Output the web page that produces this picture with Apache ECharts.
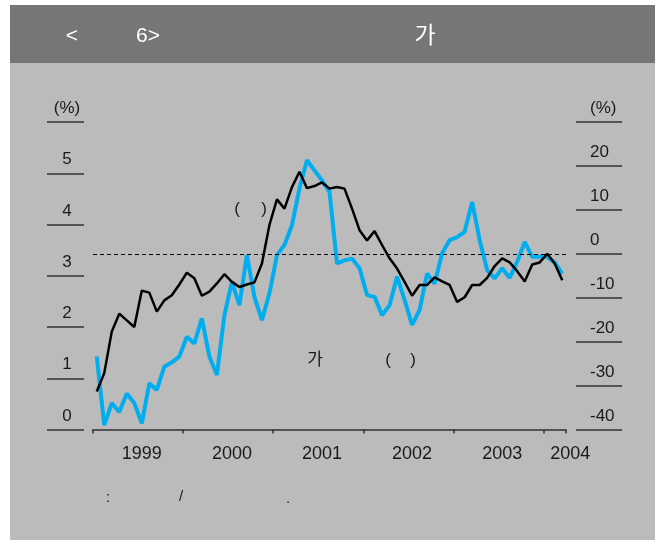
<!DOCTYPE html>
<html><head><meta charset="utf-8">
<script src="https://cdn.jsdelivr.net/npm/echarts@6/dist/echarts.min.js"></script>
<style>html,body{margin:0;padding:0;background:#fff}#c{width:659px;height:545px}</style>
</head><body><div id="c"></div>
<script>
var years = ['1999','2000','2001','2002','2003','2004'];
var months = [];
for (var y = 1999; y <= 2004; y++) { for (var m = 1; m <= 12; m++) { if (months.length < 63) months.push(y + '-' + (m < 10 ? '0' + m : m)); } }
var leftTicks = ['0','1','2','3','4','5','(%)'];
var rightTicks = ['-40','-30','-20','-10','0','10','20','(%)'];
var blackSeries = [0.74,1.10,1.91,2.26,2.13,2.00,2.71,2.67,2.30,2.52,2.62,2.83,3.06,2.95,2.61,2.69,2.85,3.03,2.88,2.78,2.83,2.87,3.24,3.99,4.49,4.31,4.73,5.03,4.71,4.75,4.82,4.70,4.73,4.70,4.31,3.89,3.69,3.87,3.60,3.34,3.14,2.88,2.61,2.82,2.82,2.97,2.89,2.82,2.49,2.58,2.82,2.82,2.96,3.19,3.34,3.26,3.09,2.89,3.22,3.26,3.43,3.24,2.91];
var blueSeries = [-23.4,-39.0,-34.0,-36.0,-31.8,-34.0,-38.6,-29.5,-31.0,-25.7,-24.7,-23.4,-18.9,-20.4,-14.7,-23.4,-27.6,-14.0,-6.4,-11.7,-0.3,-9.8,-15.1,-9.0,-0.3,2.0,6.5,14.9,21.3,19.0,16.7,14.1,-2.2,-1.5,-1.1,-3.3,-9.4,-9.8,-14.0,-11.7,-5.2,-10.5,-16.2,-12.8,-4.5,-6.8,0.1,3.1,3.8,5.0,11.8,3.1,-3.7,-5.6,-3.3,-5.5,-1.8,2.7,-0.7,-0.7,-0.7,-2.0,-4.5];
var titleParts = ['<', '6>', '가'];
var notes = ['(', ')', '가', '(', ')'];
var footer = [':', '/', '.'];

var chart = echarts.init(document.getElementById('c'));
var font = '"Liberation Sans", Arial, sans-serif';
var kfont = '"Noto Sans CJK KR", "Liberation Sans", sans-serif';
function txt(x, y, s, size, color, f) {
  return {type:'text', x:x, y:y, style:{text:s, fill:color, font: size + 'px ' + (f || kfont), textAlign:'center', textVerticalAlign:'middle'}};
}
var labelIdx = {6:0, 18:1, 30:2, 42:3, 54:4, 62:5};
chart.setOption({
  backgroundColor: '#ffffff',
  animation: false,
  graphic: [
    {type:'rect', shape:{x:10, y:5, width:645, height:58}, style:{fill:'#767676'}, z:-10},
    {type:'rect', shape:{x:10, y:63, width:645, height:477}, style:{fill:'#bbbbbb'}, z:-10},
    txt(72, 36, titleParts[0], 21, '#ffffff', font),
    txt(148, 36, titleParts[1], 21, '#ffffff', font),
    txt(425, 34, titleParts[2], 23, '#ffffff'),
    txt(237, 209, notes[0], 17, '#1a1a1a', font),
    txt(264, 209, notes[1], 17, '#1a1a1a', font),
    txt(315, 359, notes[2], 17, '#1a1a1a'),
    txt(388, 360, notes[3], 17, '#1a1a1a', font),
    txt(413, 360, notes[4], 17, '#1a1a1a', font),
    txt(108, 498, footer[0], 15, '#1a1a1a', font),
    txt(181, 497, footer[1], 15, '#1a1a1a', font),
    txt(288, 499, footer[2], 15, '#1a1a1a', font)
  ],
  grid: {left:93, right:93, top:122, bottom:115.5},
  xAxis: {
    type:'category', data: months, boundaryGap: true,
    axisLine: {show:true, lineStyle:{color:'#333333', width:1.5}},
    axisTick: {show:true, length:4, interval: function(i){ return i % 12 === 0; }, lineStyle:{color:'#333333', width:1.5}},
    axisLabel: {
      interval: function(i){ return labelIdx[i] !== undefined; },
      formatter: function(v, i){ var k = labelIdx[i]; if (k === undefined) return ''; return k === 5 ? '{s|' + years[k] + '}' : years[k]; },
      margin: 16, fontSize: 18, fontFamily: font, color: '#1a1a1a',
      rich: {s:{padding:[0,0,0,16], fontSize:18, fontFamily: font, color:'#1a1a1a'}}
    },
    splitLine: {show:false}
  },
  yAxis: [
    {type:'value', position:'left', min:0, max:6, interval:1, offset:9,
     axisLine:{show:false},
     axisTick:{show:true, length:37, lineStyle:{color:'#333333', width:1.5}},
     axisLabel:{formatter:function(v){ return leftTicks[Math.round(v)]; }, align:'center', verticalAlign:'bottom', margin:17, padding:[0,0,5,0], fontSize:17, fontFamily:font, color:'#1a1a1a'},
     splitLine:{show:false}},
    {type:'value', position:'right', min:-40, max:30, interval:10, offset:10,
     axisLine:{show:false},
     axisTick:{show:true, length:46, lineStyle:{color:'#333333', width:1.5}},
     axisLabel:{formatter:function(v){ return rightTicks[Math.round((v + 40) / 10)]; }, align:'left', verticalAlign:'bottom', margin:14, padding:[0,0,5,0], fontSize:17, fontFamily:font, color:'#1a1a1a'},
     splitLine:{show:false}}
  ],
  series: [
    {type:'line', yAxisIndex:1, data: blueSeries, symbol:'none', lineStyle:{color:'#00aeef', width:4}, z:2,
     markLine:{silent:true, symbol:'none', label:{show:false}, lineStyle:{color:'#000000', type:[4,3], width:1}, data:[{yAxis:0}]}},
    {type:'line', yAxisIndex:0, data: blackSeries, symbol:'none', lineStyle:{color:'#000000', width:2.5}, z:3}
  ]
});
</script></body></html>
